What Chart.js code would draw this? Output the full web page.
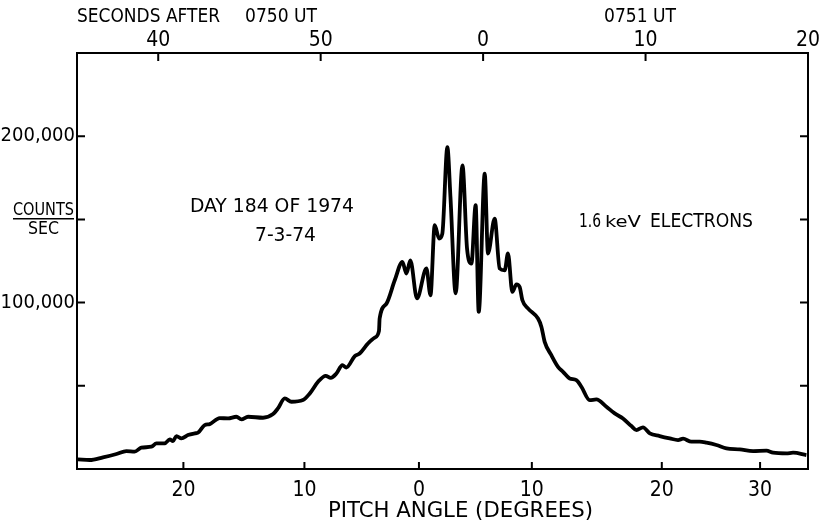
<!DOCTYPE html>
<html>
<head>
<meta charset="utf-8">
<script src="https://cdn.jsdelivr.net/npm/chart.js@4.4.1/dist/chart.umd.min.js"></script>
<style>
  body { margin: 0; background: #fff; }
  canvas { display: block; }
</style>
</head>
<body>
<canvas id="pitchChart" width="822" height="526"></canvas>
<script>
// seconds after 0750 UT (60 = 0751 UT)
const timeSec = [35.06,35.78,36.60,37.43,38.04,38.55,38.96,39.58,39.89,40.40,40.71,40.91,41.12,41.43,41.83,42.25,42.45,42.86,43.17,43.78,44.30,44.81,45.12,45.53,46.45,47.07,47.37,47.79,48.20,48.91,49.33,49.84,50.31,50.62,50.97,51.34,51.58,52.10,52.40,52.91,53.33,53.59,53.63,54.05,54.56,55.03,55.28,55.52,55.93,56.51,56.76,57.02,57.29,57.49,57.80,57.99,58.31,58.73,59.01,59.28,59.54,59.73,60.10,60.30,60.71,61.02,61.33,61.53,61.80,62.05,62.25,62.42,62.76,63.38,63.59,63.79,64.20,64.61,64.92,65.33,65.74,66.05,66.56,66.97,67.59,68.10,68.61,69.13,69.44,69.84,70.26,70.87,71.49,72.00,72.31,72.82,73.33,73.75,74.36,74.98,75.80,76.62,77.44,77.85,78.67,79.08,79.90];
const counts = [5800,5400,7000,9000,10800,10400,12800,13400,15400,15400,17800,16800,19800,18400,20400,21400,21800,26400,27000,30600,30400,31400,29800,31400,30800,33000,36400,42400,40400,41400,45400,52400,56000,54800,57400,62400,61000,67800,69400,75400,79000,83000,90400,99400,113400,124400,117500,125400,102500,120500,104400,146500,138500,141500,193400,163400,105500,182500,132500,123500,158500,94400,177500,129500,150500,120500,119400,129500,106400,111000,109400,101400,96500,90400,85400,76400,68400,61400,58400,54400,53400,49400,41400,41800,37400,33400,30400,25800,23400,25000,21400,19800,18400,17400,18200,16400,16400,15800,14400,12400,11800,10800,11000,9800,9400,9800,8400];

const secTicks = [40, 50, 60, 70, 80];
const secLabels = ["40", "50", "0", "10", "20"];
const pitchTicks = [41.55, 49.0, 56.05, 63.0, 71.0, 77.05];
const pitchLabels = ["20", "10", "0", "10", "20", "30"];
const countTicks = [50000, 100000, 150000, 200000];

const FONT = '"DejaVu Sans Condensed", "Liberation Sans Narrow", "Liberation Sans", sans-serif';

function fitText(ctx, text, x, y, w, size) {
  ctx.save();
  ctx.font = size + "px " + FONT;
  const k = w / ctx.measureText(text).width;
  ctx.translate(x, y);
  ctx.scale(k, 1);
  ctx.textAlign = "left";
  ctx.textBaseline = "middle";
  ctx.fillText(text, 0, 0);
  ctx.restore();
}

// inward ticks, frame and lettering
const decorations = {
  id: "decorations",
  afterDraw(chart) {
    const ctx = chart.ctx;
    const a = chart.chartArea;
    const sx = chart.scales.x, sx2 = chart.scales.x2, sy = chart.scales.y;
    ctx.save();
    ctx.strokeStyle = "#000";
    ctx.fillStyle = "#000";
    ctx.lineWidth = 2;
    ctx.strokeRect(a.left, a.top, a.right - a.left, a.bottom - a.top);
    ctx.beginPath();
    sx.ticks.forEach(t => {
      const p = sx.getPixelForValue(t.value);
      ctx.moveTo(p, a.top); ctx.lineTo(p, a.top + 8);
    });
    sx2.ticks.forEach(t => {
      const p = sx2.getPixelForValue(t.value);
      ctx.moveTo(p, a.bottom); ctx.lineTo(p, a.bottom - 7);
    });
    sy.ticks.forEach(t => {
      const p = sy.getPixelForValue(t.value);
      ctx.moveTo(a.left, p); ctx.lineTo(a.left + 8, p);
      ctx.moveTo(a.right, p); ctx.lineTo(a.right - 8, p);
    });
    ctx.stroke();

    fitText(ctx, "SECONDS AFTER", 77, 17, 143, 20);
    fitText(ctx, "0750 UT", 245, 17, 72, 20);
    fitText(ctx, "0751 UT", 604, 17, 72, 20);

    fitText(ctx, "COUNTS", 13, 211, 61, 17);
    ctx.fillRect(13, 218, 61, 1.5);
    fitText(ctx, "SEC", 28, 230, 31, 17);

    fitText(ctx, "DAY 184 OF 1974", 190, 207, 164, 20);
    fitText(ctx, "7-3-74", 255, 236, 61, 20);

    fitText(ctx, "1.6", 579, 222, 22, 20);
    fitText(ctx, "keV", 605, 223, 36, 16);
    fitText(ctx, "ELECTRONS", 650, 222, 103, 20);

    fitText(ctx, "PITCH ANGLE (DEGREES)", 328, 511, 265, 22);
    ctx.restore();
  }
};

const tickFont = { family: FONT, size: 21 };

new Chart(document.getElementById("pitchChart"), {
  type: "line",
  data: {
    datasets: [{
      data: timeSec.map((t, i) => ({ x: t, y: counts[i] })),
      borderColor: "#000",
      borderWidth: 3.8,
      pointRadius: 0,
      tension: 0.25,
      cubicInterpolationMode: "monotone",
      xAxisID: "x",
      yAxisID: "y"
    }]
  },
  options: {
    responsive: false,
    animation: false,
    layout: { padding: { left: 0, right: 14, top: 0, bottom: 0 } },
    plugins: { legend: { display: false }, tooltip: { enabled: false } },
    scales: {
      x: {
        type: "linear",
        position: "top",
        min: 35,
        max: 80,
        afterBuildTicks: s => { s.ticks = secTicks.map(v => ({ value: v })); },
        afterFit: s => { s.height = 53; },
        grid: { display: false, drawTicks: false },
        border: { display: false },
        ticks: {
          color: "#000",
          font: tickFont,
          padding: 0,
          maxRotation: 0,
          autoSkip: false,
          callback: (v, i) => secLabels[i]
        }
      },
      x2: {
        type: "linear",
        position: "bottom",
        min: 35,
        max: 80,
        afterBuildTicks: s => { s.ticks = pitchTicks.map(v => ({ value: v })); },
        afterFit: s => { s.height = 57; },
        grid: { display: false, drawTicks: false },
        border: { display: false },
        ticks: {
          color: "#000",
          font: tickFont,
          padding: 9,
          maxRotation: 0,
          autoSkip: false,
          callback: (v, i) => pitchLabels[i]
        }
      },
      y: {
        type: "linear",
        position: "left",
        min: 0,
        max: 250000,
        afterBuildTicks: s => { s.ticks = countTicks.map(v => ({ value: v })); },
        afterFit: s => { s.width = 77; },
        grid: { display: false, drawTicks: false },
        border: { display: false },
        ticks: {
          color: "#000",
          font: { family: FONT, size: 20 },
          padding: 2,
          callback: v => (v === 100000 || v === 200000) ? v.toLocaleString("en-US") : ""
        }
      }
    }
  },
  plugins: [decorations]
});
</script>
</body>
</html>
